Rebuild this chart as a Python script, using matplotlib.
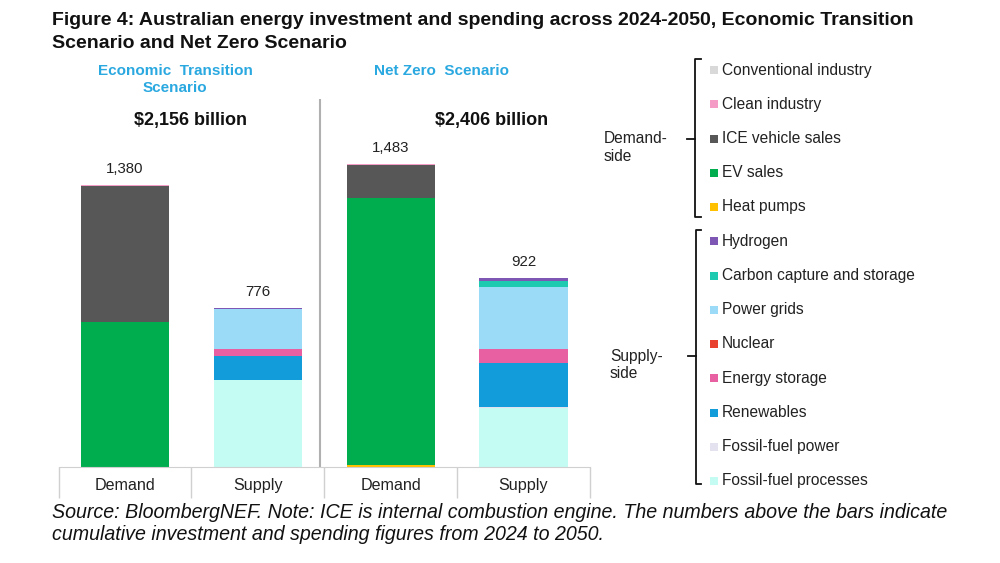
import numpy as np
import matplotlib
matplotlib.use("Agg")
import matplotlib.pyplot as plt

plt.rcParams['font.family'] = ['Liberation Sans', 'DejaVu Sans']

# data, $ billion, 2024-2050 cumulative
categories = ["Demand", "Supply", "Demand", "Supply"]
scenarios = ["Economic  Transition\nScenario", "Net Zero  Scenario"]
scenario_totals = ["$2,156 billion", "$2,406 billion"]
bar_totals = [1380, 776, 1483, 922]

heat_pumps = [0, 0, 5, 0]
ev_sales = [710, 0, 1310, 0]
ice_sales = [665, 0, 163, 0]
clean_industry = [5, 0, 5, 0]
conventional_industry = [0, 0, 0, 0]
fossil_processes = [0, 422, 0, 288]
fossil_power = [0, 3, 0, 3]
renewables = [0, 118, 0, 218]
energy_storage = [0, 31, 0, 69]
nuclear = [0, 0, 0, 0]
power_grids = [0, 200, 0, 302]
ccs = [0, 0, 0, 28]
hydrogen = [0, 2, 0, 14]

# bottom -> top
stack = [
    ("Heat pumps", heat_pumps, "#ffc000"),
    ("EV sales", ev_sales, "#00ad4e"),
    ("ICE vehicle sales", ice_sales, "#575757"),
    ("Clean industry", clean_industry, "#f59cc6"),
    ("Conventional industry", conventional_industry, "#d9d9d9"),
    ("Fossil-fuel processes", fossil_processes, "#c4fbf3"),
    ("Fossil-fuel power", fossil_power, "#e4e2ef"),
    ("Renewables", renewables, "#129cd9"),
    ("Energy storage", energy_storage, "#e960a2"),
    ("Nuclear", nuclear, "#e8412f"),
    ("Power grids", power_grids, "#9bdbf8"),
    ("Carbon capture and storage", ccs, "#1fcbb0"),
    ("Hydrogen", hydrogen, "#7d57b3"),
]
demand_legend = ["Conventional industry", "Clean industry", "ICE vehicle sales",
                 "EV sales", "Heat pumps"]
supply_legend = ["Hydrogen", "Carbon capture and storage", "Power grids", "Nuclear",
                 "Energy storage", "Renewables", "Fossil-fuel power",
                 "Fossil-fuel processes"]
colors = {name: c for name, _, c in stack}

fig = plt.figure(figsize=(10, 5.63), dpi=100)
ax = fig.add_axes([0.0585, 0.1714, 0.5315, 0.6524])

x = np.arange(len(categories))
bottom = np.zeros(len(categories))
for name, vals, col in stack:
    vals = np.array(vals, dtype=float)
    ax.bar(x, vals, 0.665, bottom=bottom, color=col, linewidth=0)
    bottom += vals

for xi, tot in zip(x, bar_totals):
    ax.text(xi, tot + 45, f"{tot:,}", ha='center', va='bottom', fontsize=10.8,
            color='#222222')

ax.set_xlim(-0.5, 3.5)
ax.set_ylim(0, 1800)
ax.set_yticks([])
for s in ['top', 'right', 'left']:
    ax.spines[s].set_visible(False)
ax.spines['bottom'].set_color('#d0d0d0')
ax.set_xticks(np.arange(-0.5, 4, 1.0))
ax.set_xticklabels([])
ax.tick_params(axis='x', which='major', length=22, color='#d0d0d0', width=1)
ax.set_xticks(x, minor=True)
ax.set_xticklabels(categories, minor=True, fontsize=11.6, color='#222222')
ax.tick_params(axis='x', which='minor', length=0, pad=8)
ax.axvline(1.47, color='#b0b0b0', lw=1.5)

# headers
for i, (sc, tot) in enumerate(zip(scenarios, scenario_totals)):
    cx = 0.175 if i == 0 else 0.442
    fig.text(cx, 1 - 64 / 563, sc, ha='center', va='top', fontsize=11,
             fontweight='bold', color='#2aa8e0', linespacing=1.25)
    tx = 0.19 if i == 0 else 0.492
    fig.text(tx, 1 - 120 / 563, tot, ha='center', va='center', fontsize=13,
             fontweight='bold', color='#111111')

fig.text(0.052, 1 - 12 / 563,
         "Figure 4: Australian energy investment and spending across 2024-2050, Economic Transition\n"
         "Scenario and Net Zero Scenario",
         ha='left', va='top', fontsize=14, fontweight='bold', color='#111111',
         linespacing=1.45)
fig.text(0.052, 1 - 503 / 563,
         "Source: BloombergNEF. Note: ICE is internal combustion engine. The numbers above the bars indicate\n"
         "cumulative investment and spending figures from 2024 to 2050.",
         ha='left', va='top', fontsize=14.1, fontstyle='italic', color='#111111',
         linespacing=1.17)

# legend with brackets, in pixel coords
lg = fig.add_axes([0, 0, 1, 1], facecolor='none')
lg.set_xlim(0, 1000)
lg.set_ylim(563, 0)
lg.axis('off')

names = demand_legend + supply_legend
for i, name in enumerate(names):
    y = 70 + i * 34.25
    lg.scatter([713.5], [y], marker='s', s=34, color=colors[name], linewidths=0)
    lg.text(721.5, y, name, ha='left', va='center', fontsize=11.2, color='#222222')


def bracket(xv, y0, y1, ym, lab_x, lab):
    lg.plot([701, xv, xv, 701], [y0, y0, y1, y1], color='#111111', lw=1.3,
            solid_joinstyle='round')
    lg.plot([xv - 8, xv], [ym, ym], color='#111111', lw=1.3)
    lg.text(lab_x, ym + 9, lab, ha='left', va='center', fontsize=11.2,
            color='#222222', linespacing=1.2)


bracket(694.5, 59, 216.5, 138.5, 604, "Demand-\nside")
bracket(696, 229.5, 484, 356, 610, "Supply-\nside")

fig.savefig("out.png", dpi=100)
